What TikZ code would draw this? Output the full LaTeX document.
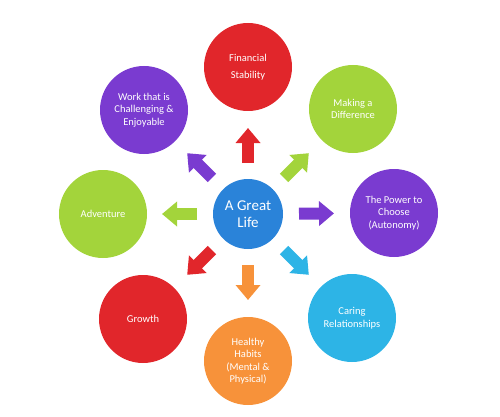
\documentclass[tikz,border=0pt]{standalone}
\usepackage{fontspec}
\setmainfont{Carlito}
\usetikzlibrary{arrows.meta,calc}
\definecolor{cred}{HTML}{E1262B}
\definecolor{cpurple}{HTML}{7A3BD0}
\definecolor{cgreen}{HTML}{A3D43B}
\definecolor{cblue}{HTML}{2A83D9}
\definecolor{ccyan}{HTML}{2DB4E6}
\definecolor{corange}{HTML}{F7923A}
\begin{document}
\begin{tikzpicture}[x=1pt,y=-1pt,
  bubble/.style={circle,minimum size=88pt,inner sep=0pt,text=white,align=center,
    font=\fontsize{10.5}{12.5}\selectfont,fill=#1},
  hub/.style={circle,minimum size=70pt,inner sep=0pt,text=white,align=center,
    font=\fontsize{15}{17}\selectfont,fill=cblue},
  spoke/.style={line width=12pt,draw=#1,-{Triangle[width=24pt,length=15pt]}}]
\useasboundingbox (0,0) rectangle (500,417);
\node[hub] (c) at (248,214) {A Great\\Life};
\node[bubble=cred] (n1) at (248,67) {Financial\\[4.5pt]Stability};
\node[bubble=cgreen] (n2) at (353,109) {Making a\\Difference};
\node[bubble=cpurple] (n3) at (394,213) {The Power to\\Choose\\(Autonomy)};
\node[bubble=ccyan] (n4) at (352,318) {Caring\\Relationships};
\node[bubble=corange] (n5) at (248,361) {Healthy\\Habits\\(Mental \&\\Physical)};
\node[bubble=cred] (n6) at (143,319) {Growth};
\node[bubble=cgreen] (n7) at (103,214) {Adventure};
\node[bubble=cpurple] (n8) at (144,110) {Work that is\\Challenging \&\\Enjoyable};
\foreach \n/\col in {n1/cred,n2/cgreen,n3/cpurple,n4/ccyan,n5/corange,n6/cred,n7/cgreen,n8/cpurple}
  \draw[spoke=\col] ($(c)!51pt!(\n)$) -- ($(c)!86pt!(\n)$);
\end{tikzpicture}
\end{document}
